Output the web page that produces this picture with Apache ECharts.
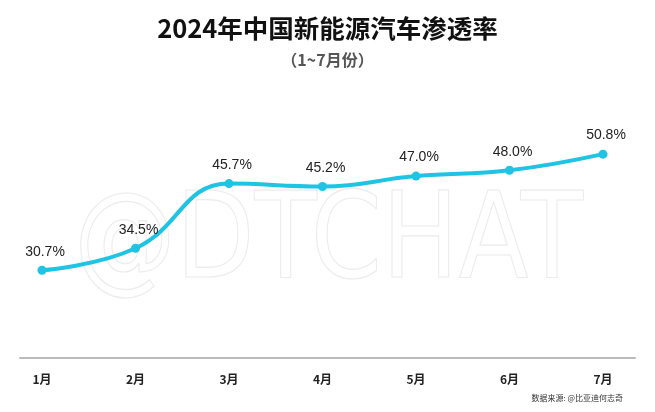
<!DOCTYPE html>
<html>
<head>
<meta charset="utf-8">
<script src="https://cdn.jsdelivr.net/npm/echarts@6/dist/echarts.min.js"></script>
<style>html,body{margin:0;padding:0;background:#fff}#c{width:655px;height:412px}</style>
</head>
<body>
<div id="c"></div>
<script>
const titleText = '2024年中国新能源汽车渗透率';
const subtitleText = '（1~7月份）';
const months = ['1月','2月','3月','4月','5月','6月','7月'];
const rates = [30.7, 34.5, 45.7, 45.2, 47.0, 48.0, 50.8];
const sourceText = '数据来源: @比亚迪何志奇';
const watermarkText = '@DTCHAT';

const chart = echarts.init(document.getElementById('c'));
const FONT = '"Noto Sans CJK SC","Noto Sans",sans-serif';
chart.setOption({
  backgroundColor: '#fff',
  animation: false,
  title: [
    {text: titleText, left: 'center', top: 11,
     textStyle: {fontFamily: FONT, fontSize: 25.5, fontWeight: 'bold', color: '#111'}},
    {text: subtitleText, left: 'center', top: 47,
     textStyle: {fontFamily: FONT, fontSize: 16, fontWeight: 'bold', color: '#555'}},
    {text: sourceText, right: 27, bottom: 5,
     textStyle: {fontFamily: FONT, fontSize: 8, fontWeight: 'normal', color: '#333'}}
  ],
  graphic: [{
    type: 'text', x: 74, y: 186, scaleX: 0.85, z: -1, silent: true,
    style: {text: watermarkText, font: '120px "DejaVu Sans", sans-serif',
      fill: 'rgba(255,255,255,0)', stroke: '#ececec', lineWidth: 1.2}
  }],
  grid: [
    {left: 42, right: 52, top: 101, bottom: 54},
    {left: 20, right: 20, top: 101, bottom: 54}
  ],
  xAxis: [
    {type: 'category', data: months, boundaryGap: false, gridIndex: 0,
     axisLine: {show: false}, axisTick: {show: false},
     axisLabel: {margin: 15, fontFamily: FONT, fontSize: 12, fontWeight: 'bold', color: '#222'}},
    {type: 'category', data: months, gridIndex: 1,
     axisLine: {show: true, lineStyle: {color: '#bbbbbb', width: 2}},
     axisTick: {show: false}, axisLabel: {show: false}}
  ],
  yAxis: [
    {type: 'value', min: 15.5, max: 60, gridIndex: 0, show: false, splitLine: {show: false}},
    {type: 'value', gridIndex: 1, show: false, splitLine: {show: false}}
  ],
  series: [{
    type: 'line', data: rates, smooth: 0.45,
    symbol: 'circle', symbolSize: 9,
    lineStyle: {color: '#1fc3e3', width: 4},
    itemStyle: {color: '#1fc3e3'},
    label: {show: true, position: 'top', distance: 7, offset: [3, 0],
      formatter: p => p.value.toFixed(1) + '%',
      fontFamily: '"Liberation Sans", Arial, sans-serif', fontSize: 14, color: '#222'}
  }]
});
</script>
</body>
</html>
